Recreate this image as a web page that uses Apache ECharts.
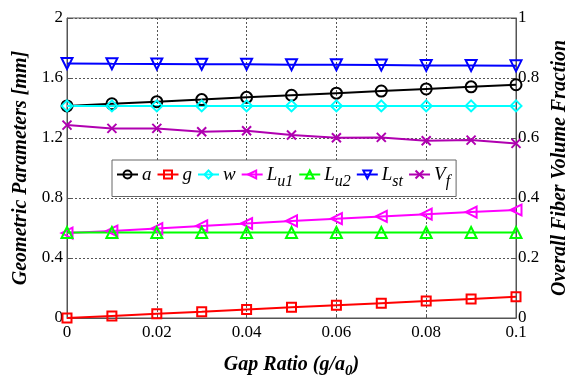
<!DOCTYPE html>
<html>
<head>
<meta charset="utf-8">
<script src="https://cdn.jsdelivr.net/npm/echarts@6/dist/echarts.min.js"></script>
<style>
  html, body { margin: 0; padding: 0; background: #fff; }
  #chart { width: 573px; height: 379px; }
</style>
</head>
<body>
<div id="chart"></div>
<script>
// gap ratio g/a0
const gapRatio = [0, 0.01, 0.02, 0.03, 0.04, 0.05, 0.06, 0.07, 0.08, 0.09, 0.1]
// geometric parameters [mm]
const aVals = [1.414, 1.428, 1.442, 1.456, 1.471, 1.485, 1.499, 1.513, 1.527, 1.541, 1.555]
const gVals = [0, 0.014, 0.028, 0.042, 0.057, 0.071, 0.085, 0.099, 0.113, 0.127, 0.141]
const wVals = [1.414, 1.414, 1.414, 1.414, 1.414, 1.414, 1.414, 1.414, 1.414, 1.414, 1.414]
const lu1Vals = [0.566, 0.58, 0.596, 0.614, 0.63, 0.647, 0.662, 0.677, 0.692, 0.706, 0.72]
const lu2Vals = [0.57, 0.57, 0.57, 0.57, 0.57, 0.57, 0.57, 0.57, 0.57, 0.57, 0.57]
const lstVals = [1.697, 1.695, 1.694, 1.692, 1.691, 1.689, 1.688, 1.686, 1.684, 1.683, 1.681]
// overall fiber volume fraction (right axis)
const vfVals = [0.643, 0.632, 0.632, 0.621, 0.624, 0.61, 0.601, 0.602, 0.591, 0.593, 0.582]

const xTicks = [0, 0.02, 0.04, 0.06, 0.08, 0.1]
const leftTicks = [0, 0.4, 0.8, 1.2, 1.6, 2]
const rightTicks = [0, 0.2, 0.4, 0.6, 0.8, 1]

const serif = '"Liberation Serif", "DejaVu Serif", serif'
const crossPath = 'path://M0,0L10,10M10,0L0,10'

// name, values, color, symbol, rotate, axis
const seriesDefs = [
  ['a', aVals, '#000000', 'circle', 0, 0],
  ['g', gVals, '#ff0000', 'rect', 0, 0],
  ['w', wVals, '#00ffff', 'diamond', 0, 0],
  ['Lu1', lu1Vals, '#ff00ff', 'triangle', 90, 0],
  ['Lu2', lu2Vals, '#00ff00', 'triangle', 0, 0],
  ['Lst', lstVals, '#0000ff', 'triangle', 180, 0],
  ['Vf', vfVals, '#b000b0', crossPath, 0, 1],
]

const legendLabels = {
  a: '{i|a}',
  g: '{i|g}',
  w: '{i|w}',
  Lu1: '{i|L}{s|u1}',
  Lu2: '{i|L}{s|u2}',
  Lst: '{i|L}{s|st}',
  Vf: '{i|V}{s|f}',
}

const fmt = (v) => String(+v.toFixed(2))

const chart = echarts.init(document.getElementById('chart'))

const tickLabel = (ticks) => ({
  fontFamily: serif, fontSize: 17, color: '#000',
  formatter: (v) => (ticks.some(t => Math.abs(t - v) < 1e-9) ? fmt(v) : ''),
})

chart.setOption({
  backgroundColor: '#fff',
  animation: false,
  textStyle: { fontFamily: serif },
  grid: {
    left: 67, right: 57, top: 18, bottom: 61,
    containLabel: false, outerBoundsMode: 'none',
    show: true, borderColor: '#555', borderWidth: 1,
  },
  legend: {
    left: 112, top: 160,
    itemWidth: 21, itemHeight: 10, itemGap: 5,
    padding: [5, 6, 7, 4],
    backgroundColor: '#fff', borderColor: '#666', borderWidth: 1, borderRadius: 0,
    data: seriesDefs.map(d => d[0]),
    formatter: (name) => legendLabels[name],
    textStyle: {
      fontFamily: serif, fontSize: 18, color: '#000', padding: [0, 0, 0, -1],
      rich: {
        i: { fontFamily: serif, fontStyle: 'italic', fontSize: 19, color: '#000' },
        s: { fontFamily: serif, fontStyle: 'italic', fontSize: 16, color: '#000', padding: [14, 0, 0, 0] },
      },
    },
  },
  xAxis: {
    type: 'value', min: 0, max: 0.1, interval: 0.02,
    axisLine: { show: true, lineStyle: { color: '#555', width: 1 } },
    axisTick: { show: true, inside: true, length: 4, lineStyle: { color: '#555' } },
    splitLine: { show: true, lineStyle: { color: '#555', type: [2, 2], width: 1 } },
    axisLabel: { ...tickLabel(xTicks), margin: 6 },
    name: '{b|Gap Ratio (g/a}{sub|0}{b|)}',
    nameLocation: 'middle', nameGap: 32,
    nameTextStyle: {
      rich: {
        b: { fontFamily: serif, fontStyle: 'italic', fontWeight: 'bold', fontSize: 20, color: '#000' },
        sub: { fontFamily: serif, fontStyle: 'italic', fontWeight: 'bold', fontSize: 15, color: '#000', padding: [14, 0, 0, 0] },
      },
    },
  },
  yAxis: [
    {
      type: 'value', min: 0, max: 2, interval: 0.4, position: 'left',
      axisLine: { show: true, lineStyle: { color: '#555', width: 1 } },
      axisTick: { show: true, inside: true, length: 4, lineStyle: { color: '#555' } },
      splitLine: { show: true, lineStyle: { color: '#555', type: [2, 2], width: 1 } },
      axisLabel: { ...tickLabel(leftTicks), margin: 4 },
      name: 'Geometric Parameters [mm]',
      nameLocation: 'middle', nameGap: 31, nameRotate: 90,
      nameTextStyle: { fontFamily: serif, fontStyle: 'italic', fontWeight: 'bold', fontSize: 20, color: '#000' },
    },
    {
      type: 'value', min: 0, max: 1, interval: 0.2, position: 'right',
      axisLine: { show: true, lineStyle: { color: '#555', width: 1 } },
      axisTick: { show: true, inside: true, length: 4, lineStyle: { color: '#555' } },
      splitLine: { show: false },
      axisLabel: { ...tickLabel(rightTicks), margin: 2 },
      name: 'Overall Fiber Volume Fraction',
      nameLocation: 'middle', nameGap: 24, nameRotate: 90,
      nameTextStyle: { fontFamily: serif, fontStyle: 'italic', fontWeight: 'bold', fontSize: 20, color: '#000' },
    },
  ],
  series: seriesDefs.map(([name, vals, color, symbol, rot, axis]) => ({
    name,
    type: 'line',
    yAxisIndex: axis,
    data: gapRatio.map((x, i) => [x, vals[i]]),
    symbol,
    symbolRotate: rot,
    symbolSize: symbol === 'rect' ? 9 : symbol === crossPath ? 9 : 11,
    showAllSymbol: true,
    clip: false,
    lineStyle: { color, width: 2 },
    itemStyle: { color: 'rgba(0,0,0,0)', borderColor: color, borderWidth: 2 },
    emphasis: { disabled: true },
  })),
})
</script>
</body>
</html>
